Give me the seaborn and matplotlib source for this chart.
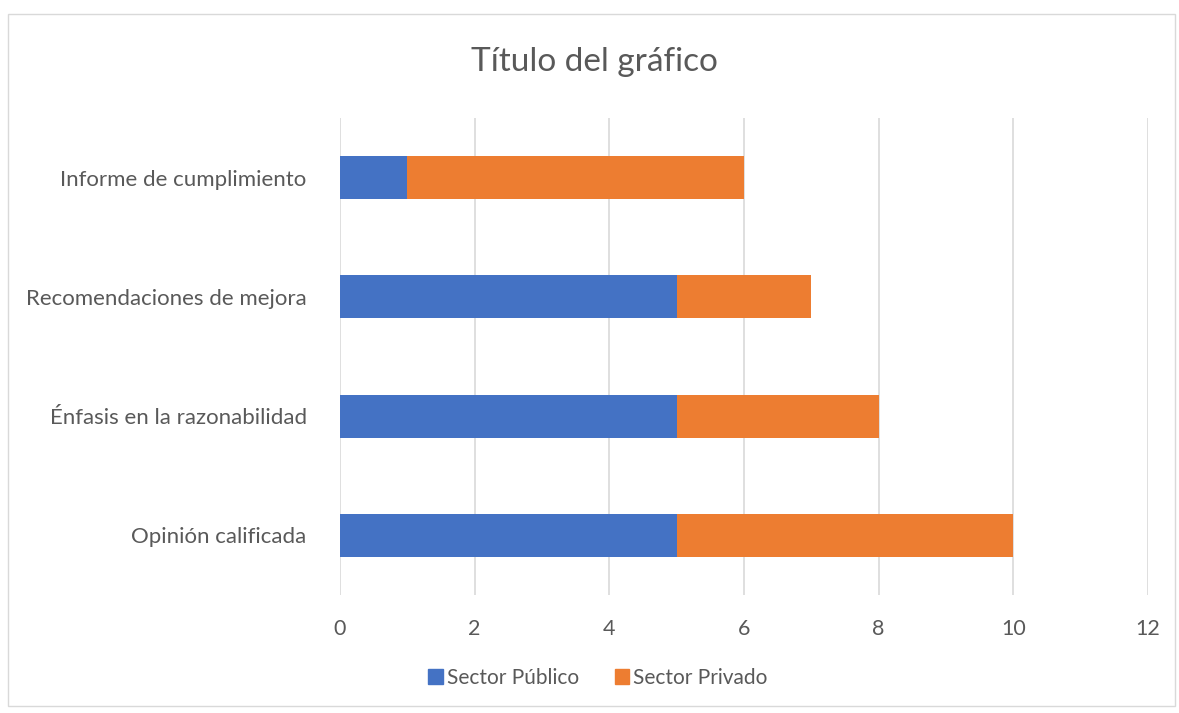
import matplotlib
matplotlib.use("Agg")
import matplotlib.pyplot as plt
import seaborn as sns
import pandas as pd
from matplotlib.patches import Rectangle, Patch

categories = ["Informe de cumplimiento", "Recomendaciones de mejora",
              "Énfasis en la razonabilidad", "Opinión calificada"]
publico = [1, 5, 5, 5]
privado = [5, 2, 3, 5]
xticks = [0, 2, 4, 6, 8, 10, 12]

blue = "#4472C4"
orange = "#ED7D31"
txt = "#595959"

sns.set_theme(style="white")
plt.rcParams['font.family'] = ['Lato', 'DejaVu Sans']

df = pd.DataFrame({"cat": categories, "pub": publico,
                   "tot": [a + b for a, b in zip(publico, privado)]})

fig = plt.figure(figsize=(11.79, 7.13), dpi=100)
ax = fig.add_axes([340/1179, 1-595/713, 808/1179, 477/713])

sns.barplot(data=df, x="tot", y="cat", orient="h", color=orange, width=0.36,
            saturation=1, ax=ax, zorder=3, linewidth=0, edgecolor="none")
sns.barplot(data=df, x="pub", y="cat", orient="h", color=blue, width=0.36,
            saturation=1, ax=ax, zorder=3, linewidth=0, edgecolor="none")

ax.set_xlim(0, 12)
ax.set_ylim(3.5, -0.5)
ax.set_xticks(xticks)
ax.set_xticklabels([str(t) for t in xticks])
ax.xaxis.grid(True, color="#D9D9D9", linewidth=1.2, zorder=0)
ax.set_axisbelow(True)
for s in ax.spines.values():
    s.set_visible(False)
ax.set_xlabel("")
ax.set_ylabel("")
ax.tick_params(axis="y", length=0, pad=24, labelsize=16, labelcolor=txt)
ax.tick_params(axis="x", length=0, pad=17, labelsize=15.5, labelcolor=txt)

fig.text(594/1179, 1-62/713, "Título del gráfico", ha="center", va="center",
         fontsize=24, color=txt)

handles = [Patch(color=blue, label="Sector Público"),
           Patch(color=orange, label="Sector Privado")]
fig.legend(handles=handles, loc="center", bbox_to_anchor=(598/1179, 1-678/713),
           ncol=2, frameon=False, fontsize=15, labelcolor=txt,
           handlelength=0.7, handleheight=0.7, handletextpad=0.2, columnspacing=1.7)

fig.patches.append(Rectangle((8/1179, 1-706/713), 1167/1179, 692/713,
                             transform=fig.transFigure, fill=False,
                             edgecolor="#D9D9D9", linewidth=1))

fig.savefig("out.png", dpi=100)
